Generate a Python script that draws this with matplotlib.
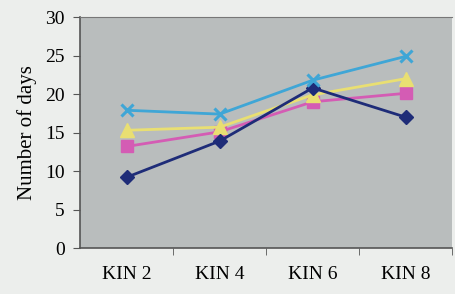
import matplotlib
matplotlib.use("Agg")
import matplotlib.pyplot as plt
from matplotlib.ticker import FixedLocator

categories = ["KIN 2", "KIN 4", "KIN 6", "KIN 8"]
s_diamond = [9.2, 13.9, 20.8, 17.0]
s_square = [13.2, 15.1, 19.0, 20.1]
s_triangle = [15.3, 15.7, 19.9, 22.0]
s_cross = [17.9, 17.4, 21.8, 24.9]
y_ticks = [0, 5, 10, 15, 20, 25, 30]

plt.rcParams['font.family'] = ['Liberation Serif', 'DejaVu Serif']

fig = plt.figure(figsize=(4.55, 2.94), dpi=100, facecolor='#eceeec')
ax = fig.add_axes([0.176, 0.156, 0.818, 0.786])
ax.set_facecolor('#b9bdbd')

x = list(range(len(categories)))
ax.plot(x, s_diamond, color='#1e2c78', marker='D', markersize=7, lw=2.0, zorder=3)
ax.plot(x, s_square, color='#d45cb4', marker='s', markersize=8, lw=2.0, zorder=2)
ax.plot(x, s_triangle, color='#e9df72', marker='^', markersize=10, lw=2.0, zorder=2)
ax.plot(x, s_cross, color='#3fa6d6', marker='x', markersize=9, mew=2.2, lw=2.0, zorder=4)

ax.set_xlim(-0.5, 3.5)
ax.set_ylim(0, 30)
ax.set_yticks(y_ticks)
ax.set_xticks(x)
ax.set_xticklabels(categories, fontsize=14)
ax.xaxis.set_minor_locator(FixedLocator([0.5, 1.5, 2.5, 3.5]))
ax.tick_params(axis='x', which='major', length=0, pad=13)
ax.tick_params(axis='x', which='minor', length=5, color='#555555')
ax.tick_params(axis='y', length=5, color='#555555', labelsize=14, pad=6)
ax.set_ylabel("Number of days", fontsize=15, labelpad=6)

for side in ['left', 'bottom']:
    ax.spines[side].set_color('#555555')
    ax.spines[side].set_linewidth(1.2)
ax.spines['top'].set_color('#777777')
ax.spines['right'].set_visible(False)

fig.savefig("out.png", dpi=100, facecolor=fig.get_facecolor())
